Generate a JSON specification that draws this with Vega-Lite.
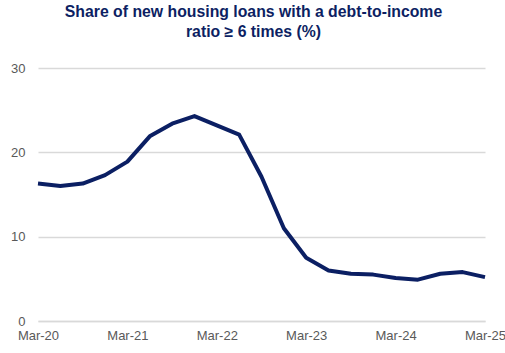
{
  "$schema": "https://vega.github.io/schema/vega-lite/v6.json",
  "width": 447,
  "height": 253,
  "autosize": "none",
  "padding": {"left": 38, "top": 68, "right": 20, "bottom": 32},
  "background": "white",
  "title": {
    "text": ["Share of new housing loans with a debt-to-income", "ratio ≥ 6 times (%)"],
    "font": "Liberation Sans",
    "fontSize": 15.8,
    "fontWeight": "bold",
    "color": "#0d1f63",
    "anchor": "middle",
    "frame": "group",
    "dx": -8,
    "lineHeight": 20,
    "offset": 21
  },
  "config": {
    "view": {"stroke": null},
    "axis": {"labelFont": "Liberation Sans", "labelFontSize": 13, "labelColor": "#595959"}
  },
  "data": {
    "values": [
      {"q": "Mar-20", "v": 16.3},
      {"q": "Jun-20", "v": 16.0},
      {"q": "Sep-20", "v": 16.3},
      {"q": "Dec-20", "v": 17.3},
      {"q": "Mar-21", "v": 18.9},
      {"q": "Jun-21", "v": 21.9},
      {"q": "Sep-21", "v": 23.4},
      {"q": "Dec-21", "v": 24.3},
      {"q": "Mar-22", "v": 23.2},
      {"q": "Jun-22", "v": 22.1},
      {"q": "Sep-22", "v": 17.1},
      {"q": "Dec-22", "v": 11.0},
      {"q": "Mar-23", "v": 7.5},
      {"q": "Jun-23", "v": 6.0},
      {"q": "Sep-23", "v": 5.6},
      {"q": "Dec-23", "v": 5.5},
      {"q": "Mar-24", "v": 5.1},
      {"q": "Jun-24", "v": 4.9},
      {"q": "Sep-24", "v": 5.6},
      {"q": "Dec-24", "v": 5.8},
      {"q": "Mar-25", "v": 5.2}
    ]
  },
  "mark": {"type": "line", "color": "#0b1f63", "strokeWidth": 4, "strokeJoin": "round", "strokeCap": "butt"},
  "encoding": {
    "x": {
      "field": "q",
      "type": "ordinal",
      "sort": null,
      "scale": {"type": "point", "padding": 0},
      "axis": {
        "title": null,
        "values": ["Mar-20", "Mar-21", "Mar-22", "Mar-23", "Mar-24", "Mar-25"],
        "labelAngle": 0,
        "ticks": false,
        "grid": false,
        "domainColor": "#d9d9d9",
        "domainWidth": 1.5,
        "labelPadding": 8
      }
    },
    "y": {
      "field": "v",
      "type": "quantitative",
      "scale": {"domain": [0, 30]},
      "axis": {
        "title": null,
        "values": [0, 10, 20, 30],
        "ticks": false,
        "domain": false,
        "gridColor": "#d9d9d9",
        "gridWidth": 1.5,
        "labelPadding": 13
      }
    }
  }
}
